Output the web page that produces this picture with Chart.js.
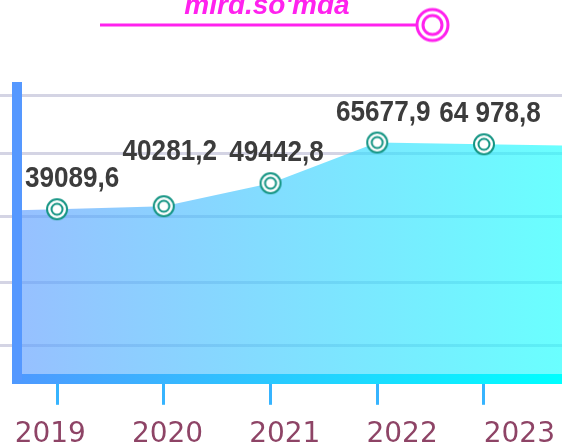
<!DOCTYPE html>
<html>
<head>
<meta charset="utf-8">
<script src="https://cdn.jsdelivr.net/npm/chart.js@4.4.0/dist/chart.umd.min.js"></script>
<style>
  html, body { margin: 0; padding: 0; background: #fff; overflow: hidden; }
  canvas { display: block; }
</style>
</head>
<body>
<canvas id="chart" width="562" height="447"></canvas>
<script>
"use strict";

//------------------------- data ---------------------------------
const years = [2019, 2020, 2021, 2022, 2023];
const values = [39089.6, 40281.2, 49442.8, 65677.9, 64978.8];
const valueLabels = ["39089,6", "40281,2", "49442,8", "65677,9", "64 978,8"];
// horizontal guide lines (value levels)
const gridLevels = [-15400, 10000, 36200, 61200, 84600];
const title = "mlrd.so'mda";

//------------------------- colours ------------------------------
const axisBlue = "#5598ff";
const gridColor = "#d4d4e4";
const pink = "#ff22ee";
const teal = "#159584";
const yearColor = "#8e4466";

let canvas = document.getElementById("chart");
let ctx = canvas.getContext("2d");

// bottom axis goes from blue to cyan
let axisGrad = ctx.createLinearGradient(0, 0, 562, 0);
axisGrad.addColorStop(0, "#5096ff");
axisGrad.addColorStop(1, "#00ffff");

// double ring used for the points and the header
function ringMarker(color, outer, inner, width) {
  let size = Math.ceil((outer + width) * 2) + 2;
  let c = document.createElement("canvas");
  c.width = size;
  c.height = size;
  let g = c.getContext("2d");
  let m = size / 2;
  g.fillStyle = "#fff";
  g.beginPath();
  g.arc(m, m, outer, 0, Math.PI * 2);
  g.fill();
  g.strokeStyle = color;
  g.lineWidth = width;
  g.beginPath();
  g.arc(m, m, outer, 0, Math.PI * 2);
  g.stroke();
  g.beginPath();
  g.arc(m, m, inner, 0, Math.PI * 2);
  g.stroke();
  return c;
}

let pointRing = ringMarker(teal, 10, 5.5, 2);
let headerRing = ringMarker(pink, 15.5, 9.5, 3);

//------------------------- plugins ------------------------------
// area under the points, carried on to both edges of the plot
const areaFill = {
  id: "areaFill",
  beforeDatasetsDraw(chart) {
    let a = chart.chartArea;
    let pts = chart.getDatasetMeta(0).data;
    if (pts.length < 2) return;
    let p0 = pts[0], p1 = pts[1];
    let pn = pts[pts.length - 1], pm = pts[pts.length - 2];
    let yLeft = p0.y + (p1.y - p0.y) * (a.left - p0.x) / (p1.x - p0.x);
    let yRight = pn.y + (pn.y - pm.y) * (a.right - pn.x) / (pn.x - pm.x);

    let grad = chart.ctx.createLinearGradient(a.left, 0, a.right, 0);
    grad.addColorStop(0, "rgba(95,158,255,0.65)");
    grad.addColorStop(1, "rgba(26,255,255,0.65)");

    let c = chart.ctx;
    c.save();
    c.beginPath();
    c.moveTo(a.left, a.bottom);
    c.lineTo(a.left, yLeft);
    pts.forEach(p => c.lineTo(p.x, p.y));
    c.lineTo(a.right, yRight);
    c.lineTo(a.right, a.bottom);
    c.closePath();
    c.fillStyle = grad;
    c.fill();
    c.restore();
  }
};

// value text above each point, pushed up when it would run into the previous one
const valueTags = {
  id: "valueTags",
  afterDatasetsDraw(chart) {
    let a = chart.chartArea;
    let c = chart.ctx;
    let squeeze = 0.9;
    let capHeight = 21;
    let placed = [];
    c.save();
    c.font = 'bold 29px "Liberation Sans", Arial, sans-serif';
    c.fillStyle = "#3c3c3c";
    c.textAlign = "center";
    c.textBaseline = "alphabetic";
    chart.getDatasetMeta(0).data.forEach((p, i) => {
      let text = valueLabels[i];
      let half = c.measureText(text).width * squeeze / 2;
      let x = Math.max(p.x + 6, a.left + 8 + half);
      x = Math.min(x, a.right - 8 - half);
      let base = p.y - 22;
      for (let box of placed) {
        let hitX = x - half < box.right + 6 && x + half > box.left - 6;
        let hitY = base > box.top && base - capHeight < box.base;
        if (hitX && hitY) base = box.top - 6;
      }
      placed.push({ left: x - half, right: x + half, base: base, top: base - capHeight });
      c.save();
      c.translate(x, base);
      c.scale(squeeze, 1);
      c.fillText(text, 0, 0);
      c.restore();
    });
    c.restore();
  }
};

// unit caption with its pink rule and ring
const header = {
  id: "header",
  afterDraw(chart) {
    let c = chart.ctx;
    c.save();
    c.fillStyle = pink;
    c.font = 'italic bold 28px "Liberation Sans", Arial, sans-serif';
    c.textAlign = "center";
    c.textBaseline = "alphabetic";
    c.fillText(title, 267, 13.5);
    c.strokeStyle = pink;
    c.lineWidth = 3;
    c.beginPath();
    c.moveTo(100, 25);
    c.lineTo(417, 25);
    c.stroke();
    c.drawImage(headerRing, 432.5 - headerRing.width / 2, 25 - headerRing.height / 2);
    c.restore();
  }
};

//------------------------- chart --------------------------------
new Chart(ctx, {
  type: "line",
  data: {
    datasets: [{
      data: years.map((yr, i) => ({ x: yr, y: values[i] })),
      showLine: false,
      pointStyle: pointRing,
      pointRadius: 11,
      pointHoverRadius: 11
    }]
  },
  options: {
    responsive: false,
    animation: false,
    layout: {
      autoPadding: false,
      padding: { top: 87, left: 0, right: 0, bottom: 0 }
    },
    plugins: {
      legend: { display: false },
      title: { display: false },
      tooltip: { enabled: false }
    },
    scales: {
      x: {
        type: "linear",
        position: "bottom",
        weight: 1,
        min: 2018.625,
        max: 2023.731,
        afterBuildTicks: scale => { scale.ticks = years.map(v => ({ value: v })); },
        ticks: { display: false },
        grid: {
          drawOnChartArea: false,
          tickLength: 26,
          tickWidth: 3,
          tickColor: "#36b4ff"
        },
        border: { color: axisGrad, width: 10, z: 1 }
      },
      years: {
        type: "linear",
        position: "bottom",
        weight: 2,
        min: 2018.716,
        max: 2023.364,
        afterBuildTicks: scale => { scale.ticks = years.map(v => ({ value: v })); },
        // labels only need space above them, and may run into the side margins
        afterFit: scale => {
          scale.height -= scale.options.ticks.padding;
          scale.paddingLeft = 0;
          scale.paddingRight = 0;
        },
        ticks: {
          padding: 17,
          color: yearColor,
          font: { family: '"DejaVu Sans", sans-serif', size: 28, lineHeight: 0.9 },
          callback: value => String(value)
        },
        grid: { display: false, drawTicks: false },
        border: { display: false }
      },
      y: {
        min: -28500,
        max: 87800,
        afterBuildTicks: scale => { scale.ticks = gridLevels.map(v => ({ value: v })); },
        ticks: { display: false },
        grid: {
          color: gridColor,
          lineWidth: 3,
          tickLength: 17,
          tickColor: gridColor
        },
        border: { color: axisBlue, width: 10, z: 1 }
      }
    }
  },
  plugins: [areaFill, valueTags, header]
});
</script>
</body>
</html>
